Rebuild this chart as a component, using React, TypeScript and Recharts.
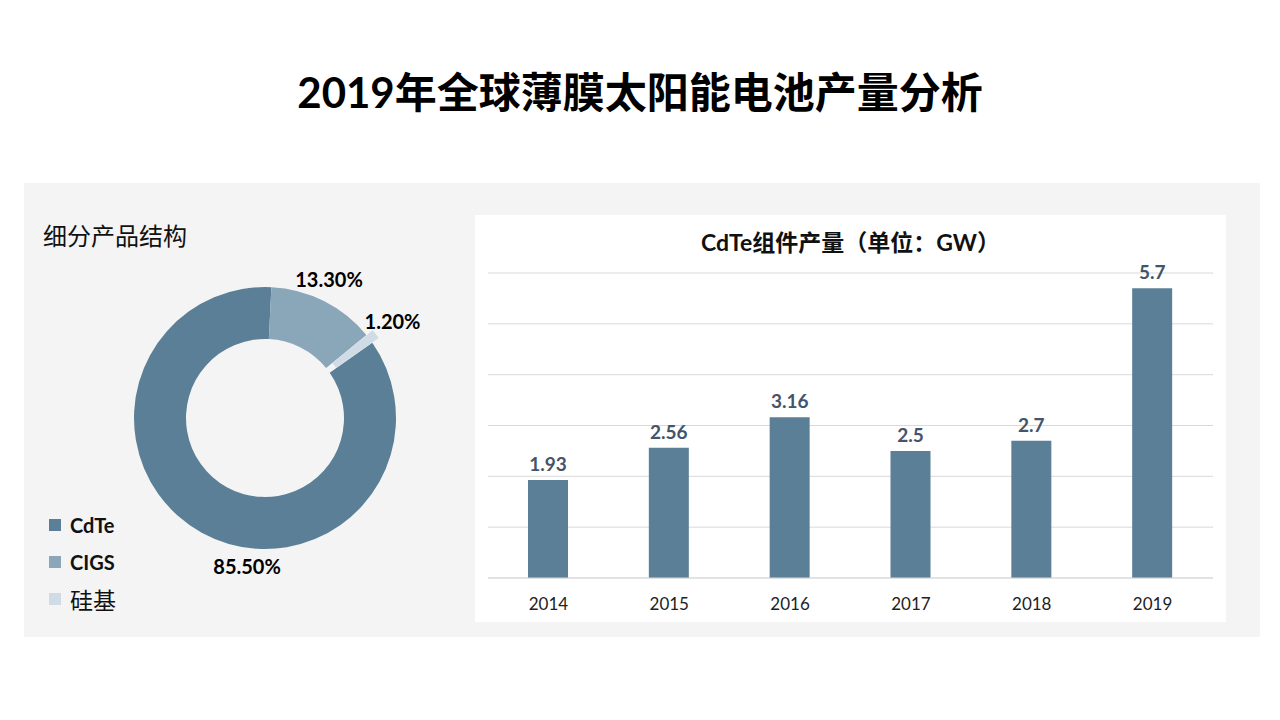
import { BarChart, Bar, XAxis, YAxis, CartesianGrid, LabelList, PieChart, Pie, Cell } from "recharts";

// 细分产品结构 (%)
const shareNames = ["CdTe", "CIGS", "硅基"];
const shareValues = [85.5, 13.3, 1.2];
const shareColors = ["#5b7f96", "#8aa6b9", "#cfdce6"];

// CdTe组件产量 (GW)
const years = ["2014", "2015", "2016", "2017", "2018", "2019"];
const output = [1.93, 2.56, 3.16, 2.5, 2.7, 5.7];
const yTicks = [0, 1, 2, 3, 4, 5, 6];

const latin = "Lato, 'Noto Sans CJK SC', sans-serif";
const cjk = "'Noto Sans CJK SC', sans-serif";

const pieData = shareNames.map((name, i) => ({ name, value: shareValues[i] }));
const barData = years.map((year, i) => ({ year, value: output[i] }));

const RADIAN = Math.PI / 180;

// excel puts the big label under the ring, not on its mid angle
const labelTurn = [22, 2, 0];
const labelGap = [18, 22, 29];

const renderPct = (props: any) => {
    const { cx, cy, midAngle, outerRadius, value, index } = props;
    const r = outerRadius + labelGap[index];
    const a = (midAngle + labelTurn[index]) * RADIAN;
    const x = cx + r * Math.cos(-a);
    const y = cy + r * Math.sin(-a);
    return (
        <text x={x} y={y} textAnchor="middle" dominantBaseline="central"
            fontFamily={latin} fontSize={20} fontWeight="bold" fill="#000">
            {value.toFixed(2)}%
        </text>
    );
};

export default function App() {
    // the small slice is pulled out a little, like in the source
    const explode = 8;
    const midSmall = 35 - 360 * (shareValues[0] + shareValues[1] + shareValues[2] / 2) / 100;
    const dx = explode * Math.cos(-midSmall * RADIAN);
    const dy = explode * Math.sin(-midSmall * RADIAN);

    return (
        <div style={{ position: "absolute", left: 0, top: 0, width: 1280, height: 720, background: "#fff", overflow: "hidden" }}>
            <div style={{ position: "absolute", left: 0, top: 67, width: 1280, textAlign: "center", fontFamily: latin, fontWeight: "bold", fontSize: 42, lineHeight: "50px", color: "#000" }}>
                2019年全球薄膜太阳能电池产量分析
            </div>

            <div style={{ position: "absolute", left: 24, top: 183, width: 1236, height: 454, background: "#f4f4f4" }} />

            <div style={{ position: "absolute", left: 43, top: 220, fontFamily: cjk, fontSize: 24, lineHeight: "30px", color: "#111" }}>
                细分产品结构
            </div>

            <div style={{ position: "absolute", left: 24, top: 183 }}>
                <PieChart width={440} height={454} margin={{ top: 0, right: 0, bottom: 0, left: 0 }}>
                    <Pie data={pieData} dataKey="value" nameKey="name" cx={241} cy={235}
                        innerRadius={79} outerRadius={131} startAngle={35} endAngle={-325}
                        stroke="none" label={renderPct} labelLine={false} isAnimationActive={false}>
                        {pieData.map((d, i) => (
                            <Cell key={d.name} fill={i === 2 ? "transparent" : shareColors[i]} />
                        ))}
                    </Pie>
                    <Pie data={pieData} dataKey="value" nameKey="name" cx={241 + dx} cy={235 + dy}
                        innerRadius={79} outerRadius={131} startAngle={35} endAngle={-325}
                        stroke="none" isAnimationActive={false}>
                        {pieData.map((d, i) => (
                            <Cell key={d.name} fill={i === 2 ? shareColors[i] : "transparent"} />
                        ))}
                    </Pie>
                </PieChart>
            </div>

            <div style={{ position: "absolute", left: 49, top: 506 }}>
                {shareNames.map((name, i) => (
                    <div key={name} style={{ display: "flex", alignItems: "center", height: 37 }}>
                        <div style={{ width: 12, height: 12, background: shareColors[i], marginRight: 9 }} />
                        <span style={{ fontFamily: i < 2 ? latin : cjk, fontSize: i < 2 ? 20 : 23, fontWeight: i < 2 ? "bold" : "normal", color: "#111" }}>{name}</span>
                    </div>
                ))}
            </div>

            <div style={{ position: "absolute", left: 475, top: 215, width: 751, height: 407, background: "#fff" }}>
                <div style={{ position: "absolute", left: 0, top: 13, width: 751, textAlign: "center", fontFamily: latin, fontWeight: "bold", fontSize: 23, lineHeight: "28px", color: "#111" }}>
                    CdTe组件产量（单位：GW）
                </div>
                <BarChart width={751} height={407} data={barData} margin={{ top: 58, right: 13, bottom: 14, left: 13 }}>
                    <CartesianGrid vertical={false} stroke="#d9d9d9" />
                    <XAxis dataKey="year" axisLine={{ stroke: "#d9d9d9" }} tickLine={false} height={30}
                        tick={{ fontFamily: latin, fontSize: 17, fill: "#222" }} tickMargin={14} />
                    <YAxis hide domain={[0, 6]} ticks={yTicks} />
                    <Bar dataKey="value" fill="#5b7f96" barSize={40} isAnimationActive={false}>
                        <LabelList dataKey="value" position="top" offset={9}
                            style={{ fontFamily: latin, fontSize: 19, fontWeight: "bold", fill: "#44546a" }} />
                    </Bar>
                </BarChart>
            </div>
        </div>
    );
}
